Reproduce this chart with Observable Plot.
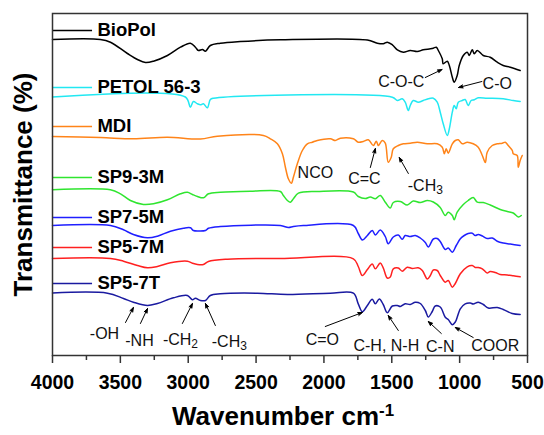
<!DOCTYPE html>
<html><head><meta charset="utf-8">
<script src="https://cdn.jsdelivr.net/npm/d3@7"></script>
<script src="https://cdn.jsdelivr.net/npm/@observablehq/plot@0.6"></script>
<style>body{margin:0;background:#fff} svg{display:block}</style>
</head><body><div id="chart"></div>
<script>
// Series (offset FTIR spectra: [wavenumber cm-1, offset transmittance a.u.])
const seriesNames = ["BioPol", "PETOL 56-3", "MDI", "SP9-3M", "SP7-5M", "SP5-7M", "SP5-7T"];
const seriesColors = ["#000000", "#22e8f2", "#ff8419", "#2fe52f", "#1f1fff", "#ff2020", "#1a1aa0"];
const legendLevels = [325, 268, 229, 178, 138, 108, 72];

const bioPol = [[4000,316],[3647,316],[3573,313.3],[3448,302],[3374,296],[3315,293],[3256,294.3],[3153,300],[3057,308.3],[2984,312.3],[2947,308.3],[2925,305],[2895,306],[2873,304.3],[2837,310],[2763,312.3],[2616,314],[2321,315.7],[1680,315.5],[1607,312.3],[1563,311.7],[1533,313.3],[1496,310.7],[1459,305.7],[1415,303.3],[1364,305],[1312,304],[1268,305.7],[1216,306.7],[1194,307.3],[1172,308.3],[1157,305],[1128,296.7],[1121,291.7],[1091,294.3],[1076,290],[1054,278.3],[1040,273.3],[1018,280],[1003,290],[973,300],[944,303.3],[929,300],[907,305.7],[892,301.7],[870,305],[826,300],[775,298.3],[723,293.3],[679,290],[627,288.3],[554,285]];
const petol = [[4000,258.5],[3021,258.5],[2984,248.3],[2962,254],[2932,251.7],[2910,250.7],[2888,251.7],[2859,247.7],[2837,256],[2814,257.3],[1496,258.3],[1459,255],[1423,256.7],[1401,253.3],[1378,245],[1364,250],[1342,255],[1305,253.3],[1268,255],[1231,256.7],[1194,257.3],[1165,253.3],[1143,243.3],[1121,231.7],[1091,220],[1076,226.7],[1054,243.3],[1040,250],[1025,246.7],[1010,253.3],[981,255],[959,256],[937,250],[915,255],[892,255.7],[863,257.7],[797,257.3],[679,256.7],[605,255],[554,254]];
const mdi = [[4000,219],[3647,218],[3404,216.7],[3153,218.3],[2910,216.5],[2785,219.3],[2446,220],[2395,216.7],[2343,211.7],[2306,201.7],[2284,188.3],[2262,176.7],[2240,172.3],[2225,178.3],[2196,191.7],[2159,205],[2122,211.7],[2085,213.3],[2049,215],[1953,216.7],[1916,215],[1879,217.3],[1783,216.7],[1747,213.3],[1710,214],[1673,215.7],[1636,210],[1614,214.3],[1599,210],[1570,215],[1548,212.3],[1526,193.3],[1504,198.3],[1489,206.7],[1452,210],[1415,211.7],[1364,212.3],[1312,213.3],[1239,211.7],[1165,211.7],[1128,208.3],[1113,201.7],[1099,206.7],[1084,202.3],[1054,211.7],[1032,215],[1010,215.7],[981,211.7],[944,213.3],[900,211.7],[863,208.3],[833,200],[811,193],[797,203.3],[760,210],[723,211.7],[686,212.3],[664,213.3],[642,210],[612,205],[605,201.7],[576,200],[568,188.3],[554,195],[539,200]];
const sp93m = [[4000,165.7],[3573,165.7],[3499,161.7],[3426,155],[3330,151],[3256,151.7],[3153,155.7],[3057,161.7],[3006,163.3],[2969,161],[2932,159],[2888,157.7],[2851,161.7],[2763,163.3],[2542,164.3],[2321,164],[2299,160],[2269,155],[2247,153.3],[2225,156.7],[2188,162.3],[2049,164],[1783,163.5],[1747,159],[1695,157],[1658,158.5],[1621,156.7],[1585,160],[1548,153.3],[1511,147.5],[1489,153],[1437,154],[1386,150.5],[1342,154.5],[1290,153],[1238,155],[1194,153.5],[1143,148],[1106,140],[1084,143.3],[1054,140],[1040,135.7],[1018,143.3],[973,151],[937,155],[900,158],[870,153.3],[826,153],[775,150.5],[701,146],[649,144],[605,142.5],[568,138.5],[546,140]];
const sp75m = [[4000,130],[3573,130],[3477,125.7],[3404,121],[3300,117.7],[3227,119.3],[3131,124.3],[3035,127.3],[2984,127.7],[2962,125],[2925,124.5],[2873,125],[2851,127.3],[2763,129],[2321,130],[2262,128],[2225,129],[2152,130],[1783,130],[1747,122],[1717,115.5],[1680,120],[1644,125],[1621,120.5],[1585,125.5],[1548,119],[1526,111.7],[1489,118.5],[1452,120.5],[1423,116.2],[1401,120],[1364,119],[1327,120],[1290,117.5],[1253,113],[1231,108.5],[1194,116.5],[1165,117],[1143,114],[1106,106],[1084,107.5],[1054,103.3],[1025,110],[995,116.7],[966,120],[937,122],[907,122.3],[885,120],[863,121],[833,119.5],[797,117],[760,117.5],[723,114.3],[679,112.5],[627,111.5],[554,110]];
const sp57m = [[4000,97],[3573,97],[3477,94.3],[3374,90],[3300,87.7],[3227,89],[3131,92.7],[3006,94.3],[2969,92.3],[2932,91],[2888,91],[2851,94],[2711,96.3],[2321,97],[1783,96.7],[1747,89],[1717,80],[1680,86],[1644,91.5],[1621,86.7],[1585,92.5],[1563,87.7],[1533,77.5],[1511,78.5],[1489,86.7],[1452,87.5],[1423,84.3],[1386,88.3],[1349,87],[1305,87.7],[1275,85],[1238,76.5],[1216,80],[1194,85.5],[1165,85],[1143,80],[1106,73.3],[1084,75],[1054,68.3],[1032,72],[995,81.7],[944,88.7],[907,90],[885,88],[863,88],[833,86.7],[797,82.5],[775,84],[738,83],[701,81],[649,80.5],[605,79.7],[554,78.7]];
const sp57t = [[4000,62.5],[3595,62.3],[3477,57],[3404,53.3],[3300,50],[3227,52],[3109,57.7],[3006,60],[2969,55.7],[2947,57.3],[2910,55],[2873,55],[2837,60],[2763,61.7],[2490,62.3],[2269,61],[1953,62.3],[1783,62.3],[1747,51.7],[1717,43.8],[1680,50],[1644,56.2],[1621,51.7],[1592,56.5],[1563,51],[1533,42.8],[1496,49.5],[1459,50],[1437,49],[1401,51.7],[1364,51],[1327,53.3],[1290,52],[1253,45],[1231,38.5],[1202,44],[1180,49.5],[1143,48.5],[1106,38.3],[1084,36],[1054,30.8],[1032,33.5],[995,46.7],[959,51.7],[922,52.5],[900,51.5],[863,53.3],[826,51],[789,47.5],[723,48],[679,46],[613,42],[554,41]];
const spectra = [bioPol, petol, mdi, sp93m, sp75m, sp57m, sp57t];

// Axis ticks
const xTicks = [4000, 3500, 3000, 2500, 2000, 1500, 1000, 500];
const xMinorTicks = [3750, 3250, 2750, 2250, 1750, 1250, 750];

// Peak annotations (label position + arrow from -> to, in wavenumber / a.u.)
const annLabels = ["C-O-C", "C-O", "NCO", "C=C", "-CH3", "-OH", "-NH", "-CH2", "-CH3", "C=O", "C-H, N-H", "C-N", "COOR"];
const annW = [1430, 723, 2063, 1702, 1253, 3617, 3359, 3057, 2697, 2012, 1540, 1143, 738];
const annV = [274, 272, 183, 177, 170, 22, 15, 16, 14, 16, 10, 9, 10];
const arrowW1 = [1253, 836, null, 1658, 1378, 3462, 3352, 3043, 2800, 1990, 1452, 1135, 900];
const arrowV1 = [278, 274, null, 188, 182, 33, 32, 32, 30, 29, 25, 22, 18];
const arrowW2 = [1130, 1008, null, 1621, 1445, 3404, 3300, 2969, 2873, 1717, 1526, 1231, 1032];
const arrowV2 = [286, 268, null, 207, 198, 48, 47, 52, 52, 43, 40, 34, 28];

const rows = seriesNames.flatMap((name, i) => spectra[i].map(([w, v]) => ({name, w, v})));
const legend = seriesNames.map((name, i) => ({name, v: legendLevels[i]}));
const anns = annLabels.map((t, i) => ({t, w: annW[i], v: annV[i]}));
const arrows = annLabels.map((t, i) => ({w1: arrowW1[i], v1: arrowV1[i], w2: arrowW2[i], v2: arrowV2[i]})).filter(d => d.w1 != null);

const font = "'Liberation Sans', Arial, Helvetica, sans-serif";

const plot = Plot.plot({
  width: 544, height: 435,
  marginTop: 13, marginRight: 17, marginBottom: 80, marginLeft: 52,
  style: {fontFamily: font, background: "#fff", color: "#000"},
  x: {domain: [4000, 500]},
  y: {domain: [0, 342], axis: null},
  color: {domain: seriesNames, range: seriesColors},
  marks: [
    Plot.axisX({ticks: xMinorTicks, tickSize: 5, tickFormat: () => "", label: null, stroke: "#333", strokeWidth: 1.5}),
    Plot.axisX({ticks: xTicks, tickSize: 8, tickPadding: 12, tickFormat: d => String(d), label: null,
      fontSize: 19.5, fontWeight: "bold", stroke: "#333", strokeWidth: 1.5}),
    Plot.line(rows, {x: "w", y: "v", z: "name", stroke: "name", strokeWidth: 1.5, curve: "catmull-rom"}),
    Plot.ruleY(legend, {y: "v", x1: 4000, x2: 3705, stroke: "name", strokeWidth: 1.5}),
    Plot.text(legend, {x: 3669, y: "v", text: "name", textAnchor: "start", fontSize: 18.5, fontWeight: "bold", fill: "#000"}),
    Plot.arrow(arrows, {x1: "w1", y1: "v1", x2: "w2", y2: "v2", stroke: "#000", fill: "#000", strokeWidth: 1, headLength: 7, headAngle: 40}),
    Plot.text(anns, {x: "w", y: "v", text: "t", fontSize: 16, fill: "#111"}),
    Plot.text(["Transmittance (%)"], {text: d => d, frameAnchor: "left", textAnchor: "middle", lineAnchor: "middle", rotate: -90, dx: -29, fontSize: 26, fontWeight: "bold", fill: "#000"}),
    Plot.frame({stroke: "#333", strokeWidth: 1.5})
  ]
});
document.getElementById("chart").appendChild(plot);

const svg = d3.select(plot);
// subscripts for CH2 / CH3
svg.selectAll("text").each(function() {
  const m = /^(-CH)([23])$/.exec(this.textContent);
  if (m) {
    const el = d3.select(this);
    el.text(null);
    el.append("tspan").text(m[1]);
    el.append("tspan").attr("dy", "0.3em").attr("font-size", "0.75em").text(m[2]);
  }
});
// x-axis title with superscript
const title = svg.append("text")
  .attr("x", 283).attr("y", 425)
  .attr("text-anchor", "middle")
  .attr("font-family", font).attr("font-size", 26).attr("font-weight", "bold").attr("fill", "#000");
title.append("tspan").text("Wavenumber cm");
title.append("tspan").attr("dy", "-0.55em").attr("font-size", "0.65em").text("-1");
</script>
</body></html>
